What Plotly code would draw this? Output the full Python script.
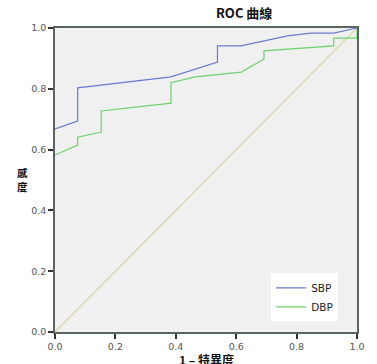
import plotly.graph_objects as go

# SBP ROC curve (1 - specificity, sensitivity)
sbp_fpr = [0.0, 0.075, 0.075, 0.384, 0.538, 0.538, 0.616, 0.770, 0.846, 0.923, 1.0]
sbp_tpr = [0.668, 0.694, 0.803, 0.839, 0.888, 0.941, 0.941, 0.974, 0.983, 0.983, 1.0]

# DBP ROC curve
dbp_fpr = [0.0, 0.075, 0.075, 0.153, 0.153, 0.384, 0.384, 0.464, 0.617, 0.692, 0.692, 0.923, 0.923, 1.0, 1.0]
dbp_tpr = [0.582, 0.615, 0.641, 0.658, 0.727, 0.753, 0.820, 0.839, 0.855, 0.898, 0.925, 0.941, 0.967, 0.967, 1.0]

ref_x = [0.0, 1.0]
ref_y = [0.0, 1.0]

x_ticks = [0.0, 0.2, 0.4, 0.6, 0.8, 1.0]
y_ticks = [0.0, 0.2, 0.4, 0.6, 0.8, 1.0]

fig = go.Figure()
fig.add_trace(go.Scatter(x=ref_x, y=ref_y, mode="lines",
                         line=dict(color="#d8d2a2", width=1.2), showlegend=False,
                         hoverinfo="skip"))
fig.add_trace(go.Scatter(x=dbp_fpr, y=dbp_tpr, mode="lines", name="DBP",
                         line=dict(color="#6cd26c", width=1.2)))
fig.add_trace(go.Scatter(x=sbp_fpr, y=sbp_tpr, mode="lines", name="SBP",
                         line=dict(color="#6a7bd0", width=1.2)))

axis_common = dict(
    range=[0, 1], showgrid=False, zeroline=False,
    showline=True, mirror=True, linecolor="#5a6563", linewidth=1.5,
    ticks="outside", ticklen=5, tickwidth=1.5, tickcolor="#333",
    tickfont=dict(family="DejaVu Sans", size=9.5, color="#555"),
    tickformat=".1f",
)

PL, PR = 55, 16
PW = 377 - PL - PR

fig.update_layout(
    width=377, height=364,
    margin=dict(l=PL, r=PR, t=28, b=32),
    paper_bgcolor="white", plot_bgcolor="#f0f0f0",
    xaxis=dict(tickvals=x_ticks, **axis_common),
    yaxis=dict(tickvals=y_ticks, **axis_common),
    legend=dict(x=(274 - PL) / PW, y=0.193, xanchor="left", yanchor="top",
                bgcolor="white", borderwidth=0, traceorder="reversed",
                font=dict(family="DejaVu Sans", size=10.5, color="#222"),
                itemwidth=30, tracegroupgap=0),
    showlegend=True,
)

fig.add_annotation(text="<b>ROC 曲線</b>", xref="paper", yref="paper",
                   x=(246 - PL) / PW, y=1, yanchor="bottom", yshift=4, showarrow=False,
                   font=dict(family="Noto Sans CJK TC", size=13, color="#111"))
fig.add_annotation(text="<b>1 – 特異度</b>", xref="paper", yref="paper",
                   x=(208 - PL) / PW, y=0, yanchor="top", yshift=-17, showarrow=False,
                   font=dict(family="Noto Sans CJK TC", size=12, color="#111"))
fig.add_annotation(text="<b>感<br>度</b>", xref="paper", yref="paper",
                   x=0, xanchor="center", xshift=-33, y=(332 - 179) / 304,
                   yanchor="middle", showarrow=False,
                   font=dict(family="Noto Sans CJK TC", size=10.5, color="#111"))

fig.write_html(
    "out.html",
    config={"displayModeBar": False},
    post_script="document.body.style.margin='0';document.body.style.padding='0';"
                "document.documentElement.style.overflow='hidden';",
)
